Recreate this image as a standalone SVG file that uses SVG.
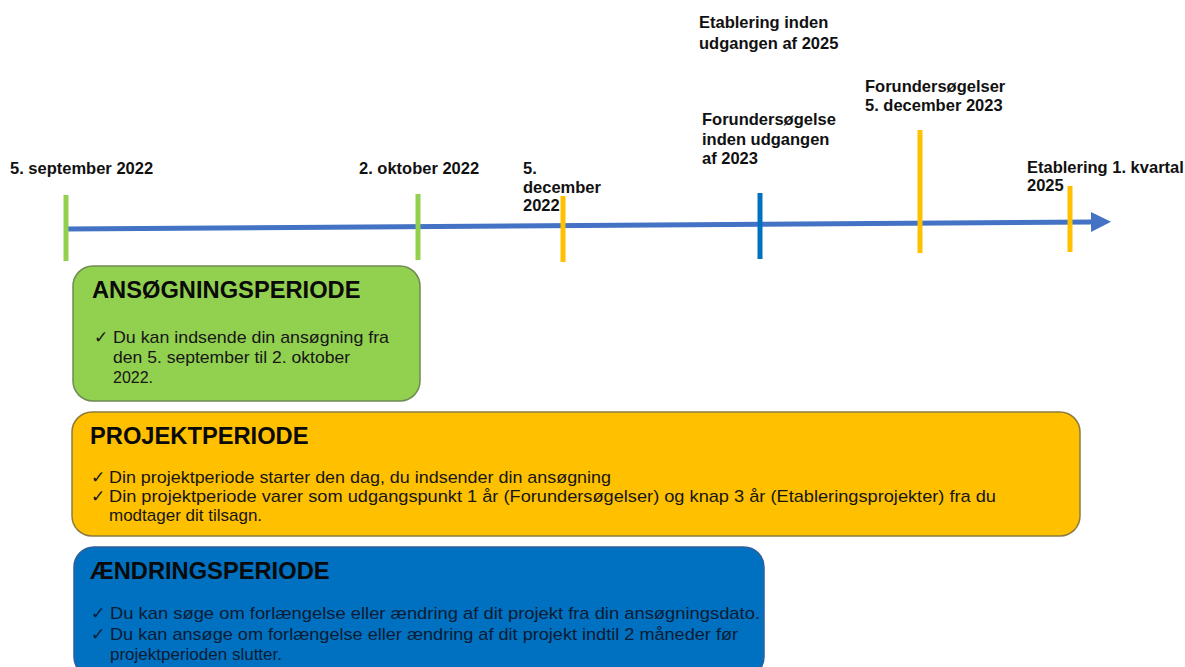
<svg xmlns="http://www.w3.org/2000/svg" width="1185" height="667" viewBox="0 0 1185 667">
<style>
.lbl{font-family:"Liberation Sans",Arial,sans-serif;font-weight:bold;font-size:16.5px;fill:#111}
.ttl{font-family:"Liberation Sans",Arial,sans-serif;font-weight:bold;font-size:23.7px;fill:#0a0a0a}
.bt{font-family:"Liberation Sans",Arial,sans-serif;font-size:17px;fill:#161616}
.bb{fill:#0b1c33}
.tick{stroke-width:5}
.g{stroke:#92D050}.y{stroke:#FFC000}.b{stroke:#0070C0}
</style>
<defs>
<marker id="ah" markerWidth="4" markerHeight="4" refX="0" refY="2" orient="auto" markerUnits="strokeWidth"><path d="M0,0 L4,2 L0,4 z" fill="#4472C4"/></marker>
</defs>
<rect width="1185" height="667" fill="#fff"/>
<g id="connectors">
<line x1="66" y1="229" x2="1091" y2="222" stroke="#4472C4" stroke-width="5" marker-end="url(#ah)"/>
</g>
<g id="ticks">
<line class="tick g" x1="66" y1="195" x2="66" y2="261"/>
<line class="tick g" x1="418" y1="194" x2="418" y2="260"/>
<line class="tick y" x1="563" y1="196" x2="563" y2="262"/>
<line class="tick b" x1="760" y1="193" x2="760" y2="259"/>
<line class="tick y" x1="920" y1="130" x2="920" y2="253"/>
<line class="tick y" x1="1070" y1="186" x2="1070" y2="252"/>
</g>
<g id="labels">
<text class="lbl" x="10" y="174">5. september 2022</text>
<text class="lbl" x="359" y="174">2. oktober 2022</text>
<text class="lbl" x="523" y="174">5.<tspan x="523" dy="18.5">december</tspan><tspan x="523" dy="18.5">2022</tspan></text>
<text class="lbl" x="699" y="28">Etablering inden<tspan x="699" dy="21">udgangen af 2025</tspan></text>
<text class="lbl" x="702" y="125">Forundersøgelse<tspan x="702" dy="19.5">inden udgangen</tspan><tspan x="702" dy="19.5">af 2023</tspan></text>
<text class="lbl" x="865" y="92">Forundersøgelser<tspan x="865" dy="19">5. december 2023</tspan></text>
<text class="lbl" x="1027" y="173">Etablering 1. kvartal<tspan x="1027" dy="18">2025</tspan></text>
</g>
<g id="ansoegning">
<rect x="73" y="266" width="347" height="135" rx="20" fill="#92D050" stroke="#6f8a52" stroke-width="1.5"/>
<text class="ttl" x="92" y="298">ANSØGNINGSPERIODE</text>
<text class="bt" x="94" y="343">✓</text>
<text class="bt" x="113" y="343" textLength="276" lengthAdjust="spacingAndGlyphs">Du kan indsende din ansøgning fra</text>
<text class="bt" x="113" y="363" textLength="237" lengthAdjust="spacingAndGlyphs">den 5. september til 2. oktober</text>
<text class="bt" x="113" y="383" textLength="40" lengthAdjust="spacingAndGlyphs">2022.</text>
</g>
<g id="projekt">
<rect x="72" y="412" width="1008" height="124" rx="20" fill="#FFC000" stroke="#8c7b3e" stroke-width="1.5"/>
<text class="ttl" x="90" y="444">PROJEKTPERIODE</text>
<text class="bt" x="91" y="483">✓</text>
<text class="bt" x="109" y="483" textLength="502" lengthAdjust="spacingAndGlyphs">Din projektperiode starter den dag, du indsender din ansøgning</text>
<text class="bt" x="91" y="502">✓</text>
<text class="bt" x="109" y="502" textLength="887" lengthAdjust="spacingAndGlyphs">Din projektperiode varer som udgangspunkt 1 år (Forundersøgelser) og knap 3 år (Etableringsprojekter) fra du</text>
<text class="bt" x="109" y="521">modtager dit tilsagn.</text>
</g>
<g id="aendring">
<rect x="74" y="547" width="690" height="130" rx="20" fill="#0070C0" stroke="#2f5f9a" stroke-width="1.5"/>
<text class="ttl" x="90" y="579">ÆNDRINGSPERIODE</text>
<text class="bt bb" x="91" y="619">✓</text>
<text class="bt bb" x="110" y="619" textLength="650" lengthAdjust="spacingAndGlyphs">Du kan søge om forlængelse eller ændring af dit projekt fra din ansøgningsdato.</text>
<text class="bt bb" x="91" y="640">✓</text>
<text class="bt bb" x="110" y="640" textLength="628" lengthAdjust="spacingAndGlyphs">Du kan ansøge om forlængelse eller ændring af dit projekt indtil 2 måneder før</text>
<text class="bt bb" x="110" y="660">projektperioden slutter.</text>
</g>
</svg>
